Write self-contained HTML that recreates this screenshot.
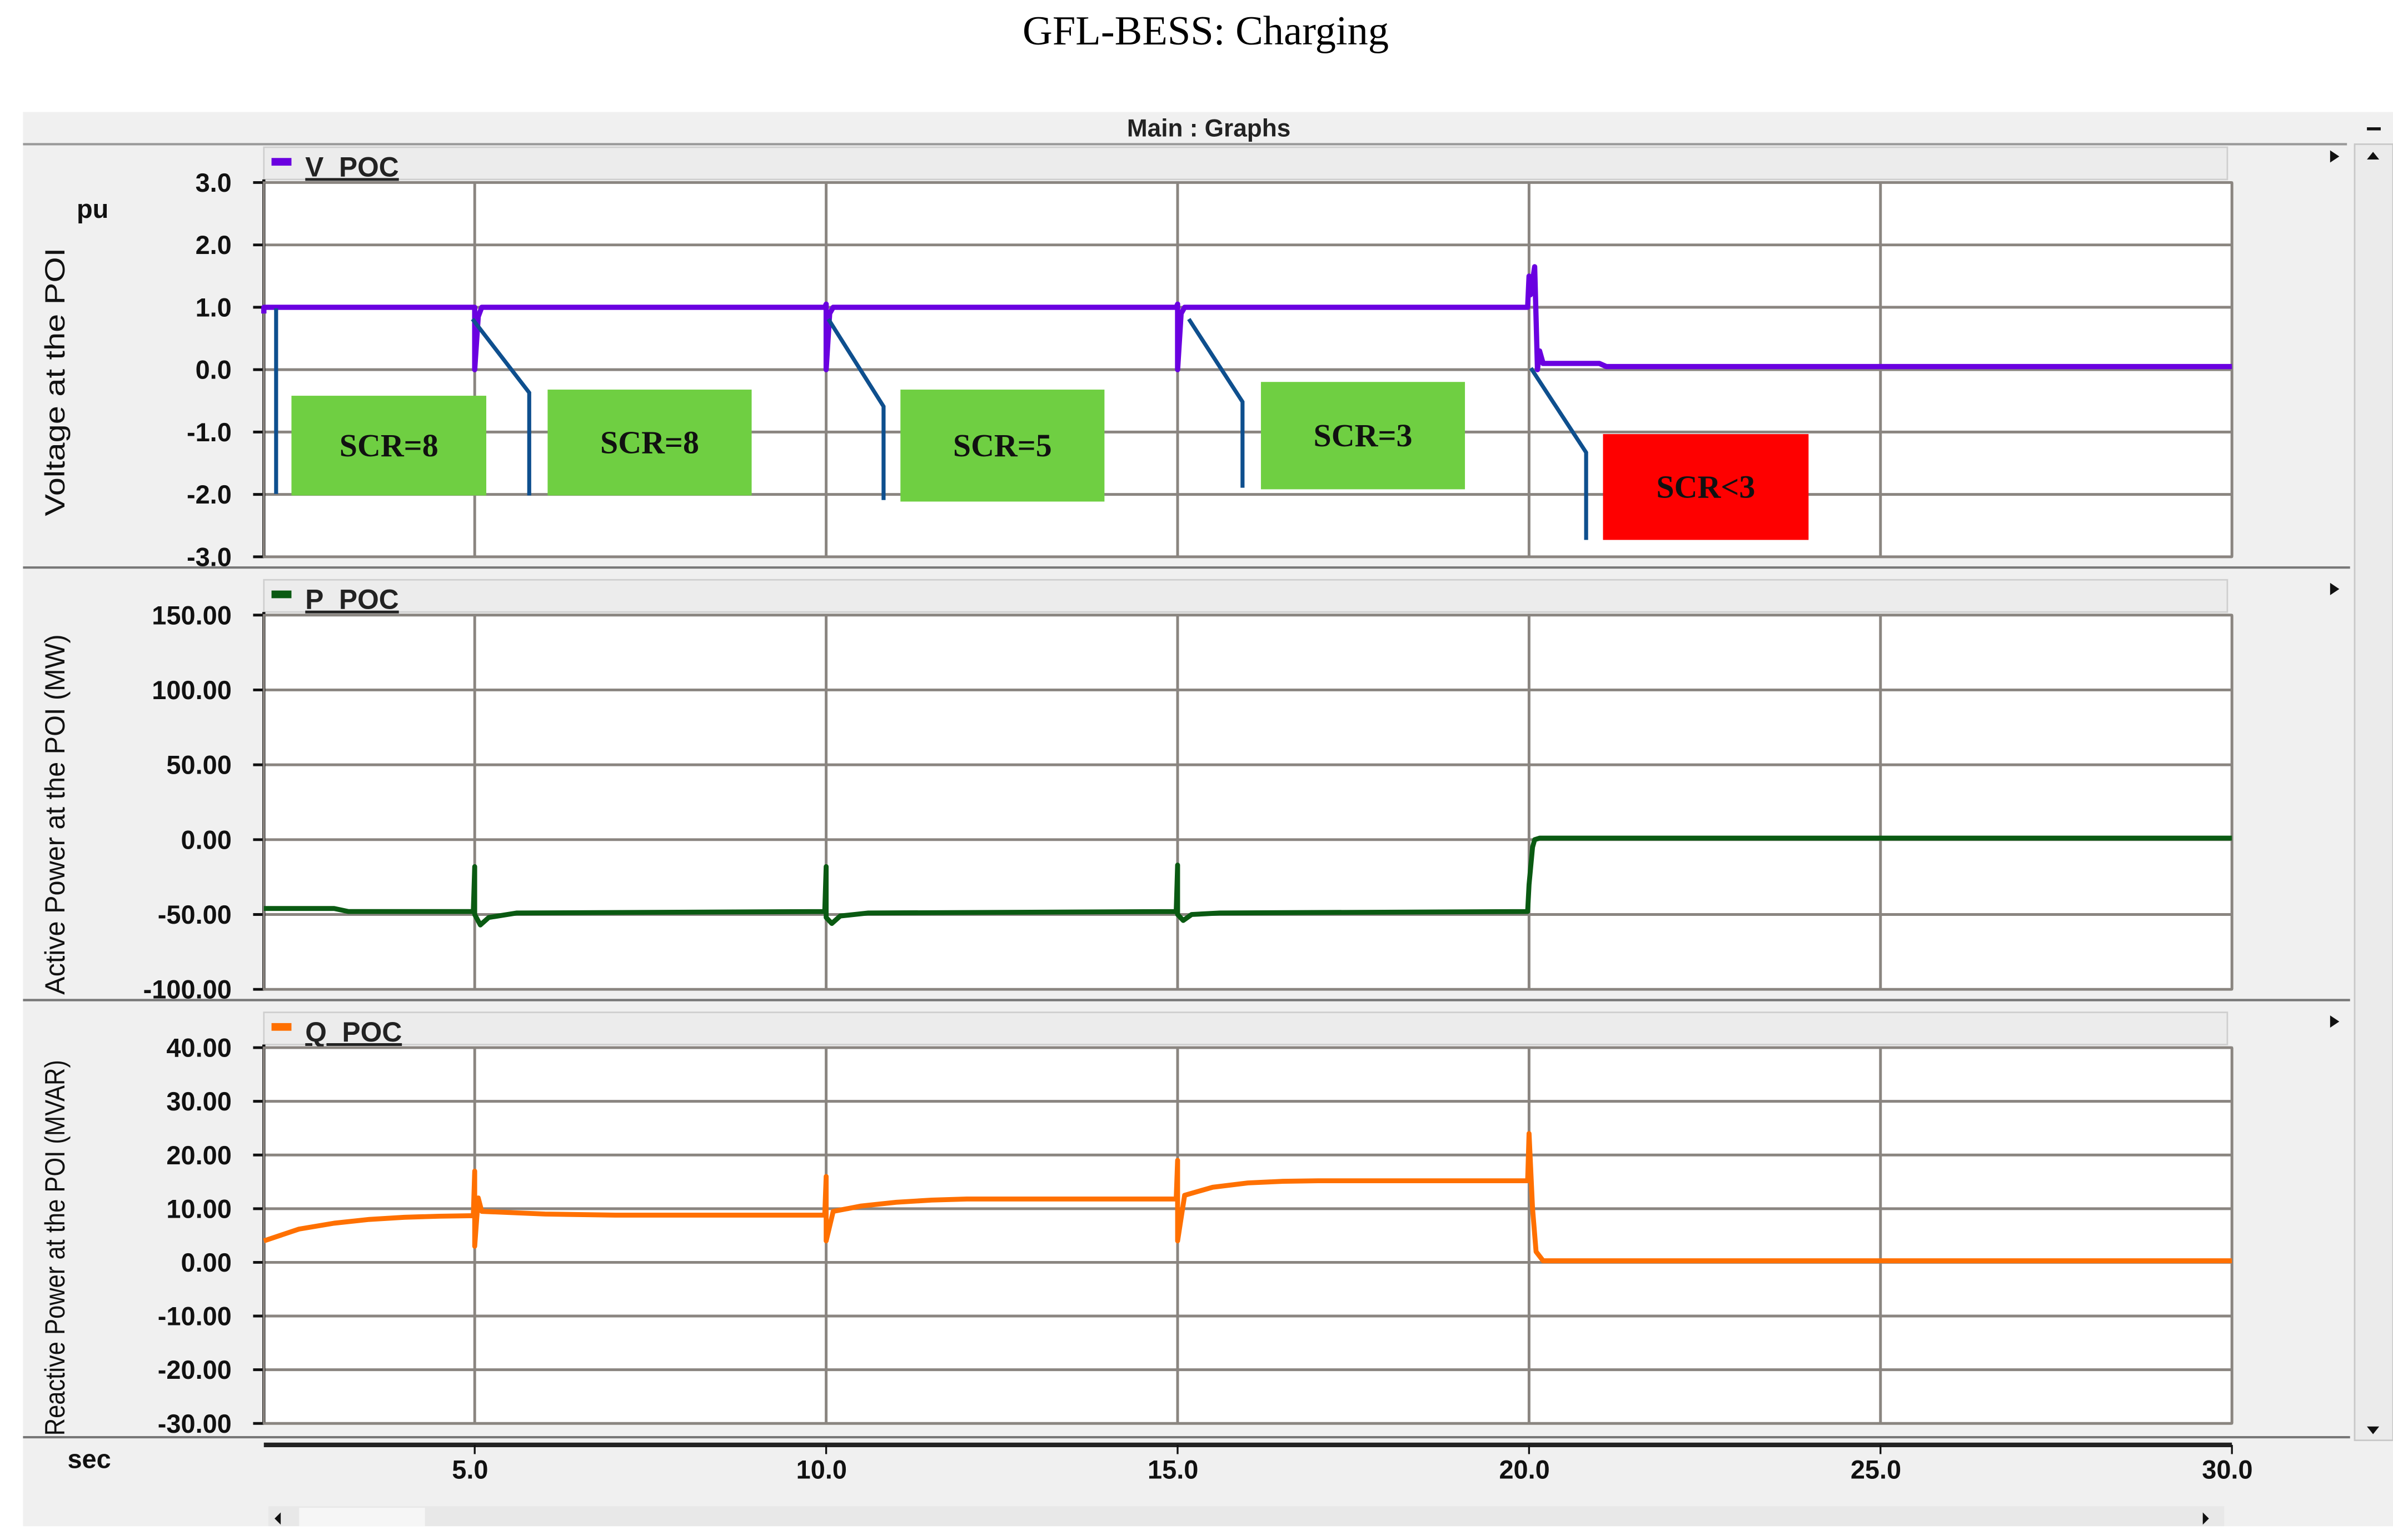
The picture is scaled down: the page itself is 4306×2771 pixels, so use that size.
<!DOCTYPE html>
<html><head><meta charset="utf-8"><style>
html,body{margin:0;padding:0;background:#fff;}
svg{display:block;}
text{font-family:"Liberation Sans",sans-serif;}
</style></head><body>
<svg id="chart" width="4306" height="2771" viewBox="0 0 1560 1004" preserveAspectRatio="none" xmlns="http://www.w3.org/2000/svg">
<text x="786" y="29" text-anchor="middle" style="font-family:'Liberation Serif',serif;font-size:27px">GFL-BESS: Charging</text>
<rect x="15" y="73" width="1545" height="922" fill="#f0f0f0"/>
<text x="788" y="89" text-anchor="middle" font-size="16" font-weight="bold" fill="#222">Main : Graphs</text>
<line x1="15" y1="94" x2="1530" y2="94" stroke="#999" stroke-width="1.5"/>
<g id="panels"></g>
<g id="annotations"></g>
</svg>
<script>
// ---- data ----
const xTicks = [5, 10, 15, 20, 25, 30];
const xTickLabels = ["5.0", "10.0", "15.0", "20.0", "25.0", "30.0"];
const vTicks = [3, 2, 1, 0, -1, -2, -3];
const vTickLabels = ["3.0", "2.0", "1.0", "0.0", "-1.0", "-2.0", "-3.0"];
const pTicks = [150, 100, 50, 0, -50, -100];
const pTickLabels = ["150.00", "100.00", "50.00", "0.00", "-50.00", "-100.00"];
const qTicks = [40, 30, 20, 10, 0, -10, -20, -30];
const qTickLabels = ["40.00", "30.00", "20.00", "10.00", "0.00", "-10.00", "-20.00", "-30.00"];

const vTime = [2, 2, 4.98, 5, 5, 5.05, 5.1, 9.98, 10, 10, 10.05, 10.1, 14.98, 15, 15, 15.05, 15.1, 19.98, 20, 20.02, 20.08, 20.12, 20.15, 20.2, 21, 21.1, 30];
const vValue = [0.9, 1.0, 1.0, 1.0, 0.0, 0.85, 1.0, 1.0, 1.05, 0.0, 0.9, 1.0, 1.0, 1.05, 0.0, 0.9, 1.0, 1.0, 1.5, 1.2, 1.65, 0.0, 0.3, 0.1, 0.1, 0.05, 0.05];
const pTime = [2, 3, 3.2, 4.98, 5, 5, 5.08, 5.2, 5.6, 9.98, 10, 10, 10.08, 10.2, 10.6, 14.98, 15, 15, 15.08, 15.2, 15.6, 19.98, 20, 20.05, 20.08, 20.15, 30];
const pValue = [-46, -46, -48, -48, -18, -50, -57, -52, -49, -48, -18, -52, -56, -51, -49, -48, -17, -50, -54, -50, -49, -48, -30, -5, 0, 1, 1];
const qTime = [2, 2.5, 3, 3.5, 4, 4.5, 4.98, 5, 5, 5.05, 5.1, 6, 7, 8, 9, 9.98, 10, 10, 10.1, 10.5, 11, 11.5, 12, 14.98, 15, 15, 15.1, 15.5, 16, 16.5, 17, 19.98, 20, 20.05, 20.1, 20.2, 30];
const qValue = [4, 6.2, 7.3, 8, 8.4, 8.6, 8.7, 17, 3, 12, 9.5, 9, 8.8, 8.8, 8.8, 8.8, 16, 4, 9.5, 10.5, 11.2, 11.6, 11.8, 11.8, 19, 4, 12.5, 14, 14.8, 15.1, 15.2, 15.2, 24, 10, 2, 0.3, 0.3];

// ---- layout ----
const X0 = 172, X1 = 1455, TMIN = 2, TMAX = 30;
const xs = t => X0 + (t - TMIN) / (TMAX - TMIN) * (X1 - X0);
const NS = "http://www.w3.org/2000/svg";
function mk(tag, attrs, parent) {
  const e = document.createElementNS(NS, tag);
  for (const k in attrs) e.setAttribute(k, attrs[k]);
  parent.appendChild(e);
  return e;
}
const panels = document.getElementById("panels");

const panelDefs = [
  {key: "voltage", top: 119, bottom: 363, min: -3, max: 3, ticks: vTicks, labels: vTickLabels, time: vTime, vals: vValue, color: "#6a00e0", legend: "V_POC", sw: 3.4, title: "Voltage at the POI", titleLen: 175, hdr: 96, sep: 370},
  {key: "active-power", top: 401, bottom: 645, min: -100, max: 150, ticks: pTicks, labels: pTickLabels, time: pTime, vals: pValue, color: "#0a5a12", legend: "P_POC", sw: 3.2, title: "Active Power at the POI (MW)", titleLen: 235, hdr: 378, sep: 652},
  {key: "reactive-power", top: 683, bottom: 928, min: -30, max: 40, ticks: qTicks, labels: qTickLabels, time: qTime, vals: qValue, color: "#ff7000", legend: "Q_POC", sw: 3.2, title: "Reactive Power at the POI (MVAR)", titleLen: 245, hdr: 660, sep: 937}
];

panelDefs.forEach(p => {
  const g = mk("g", {}, panels);
  
  
  const ys = v => p.bottom - (v - p.min) / (p.max - p.min) * (p.bottom - p.top);
  const hb = mk("rect", {x: 172, y: p.hdr, width: 1280, height: 21, fill: "#ececec", stroke: "#cfcfcf", "stroke-width": 1}, g);
  
  
  const sw = mk("rect", {x: 177, y: p.hdr + 7, width: 13, height: 5, fill: p.color}, g);
  
  
  const lt = mk("text", {x: 199, y: p.hdr + 19, "font-size": 18, "font-weight": "bold", fill: "#222", "text-decoration": "underline"}, g);
  lt.textContent = p.legend;
  
  
  const ar = mk("path", {d: `M1519 ${p.hdr + 2} L1525 ${p.hdr + 6} L1519 ${p.hdr + 10} Z`, fill: "#111"}, g);
  
  
  const pa = mk("rect", {x: X0, y: p.top, width: X1 - X0, height: p.bottom - p.top, fill: "#fff"}, g);
  
  
  p.ticks.forEach((v, i) => {
    const y = ys(v);
    const gl = mk("line", {x1: X0, y1: y, x2: X1, y2: y, stroke: "#8a8580", "stroke-width": 1.8}, g);
    
    
    mk("line", {x1: X0 - 7, y1: y, x2: X0, y2: y, stroke: "#111", "stroke-width": 1.8}, g);
    const tl = mk("text", {x: 151, y: y + 6, "text-anchor": "end", "font-size": 17, "font-weight": "bold", fill: "#111"}, g);
    tl.textContent = p.labels[i];
    
    
  });
  xTicks.forEach(t => {
    const gl = mk("line", {x1: xs(t), y1: p.top, x2: xs(t), y2: p.bottom, stroke: "#8a8580", "stroke-width": 1.8}, g);
    
    
  });
  mk("line", {x1: X0, y1: p.top - 2, x2: X0, y2: p.bottom, stroke: "#111", "stroke-width": 2}, g);
  mk("rect", {x: X0, y: p.top, width: X1 - X0, height: p.bottom - p.top, fill: "none", stroke: "#8a8580", "stroke-width": 1.4}, g);
  const cy = (p.top + p.bottom) / 2 + 8;
  const at = mk("text", {x: 0, y: 0, transform: `translate(42 ${cy}) rotate(-90)`, "text-anchor": "middle", "font-size": 18, fill: "#111", textLength: p.titleLen, lengthAdjust: "spacingAndGlyphs"}, g);
  at.textContent = p.title;
  
  
  const d = p.time.map((t, i) => (i ? "L" : "M") + xs(t).toFixed(2) + " " + ys(p.vals[i]).toFixed(2)).join(" ");
  const ln = mk("path", {d: d, fill: "none", stroke: p.color, "stroke-width": p.sw, "stroke-linejoin": "round"}, g);
  
  
  mk("line", {x1: 15, y1: p.sep, x2: 1532, y2: p.sep, stroke: "#777", "stroke-width": 1.5}, g);
});

const pu = mk("text", {x: 50, y: 142, "font-size": 17, "font-weight": "bold", fill: "#111"}, panels);
pu.textContent = "pu";



const xa = mk("g", {}, panels);


mk("line", {x1: X0, y1: 942, x2: X1, y2: 942, stroke: "#222", "stroke-width": 3}, xa);
xTicks.forEach((t, i) => {
  mk("line", {x1: xs(t), y1: 942, x2: xs(t), y2: 948, stroke: "#111", "stroke-width": 1.2}, xa);
  const tl = mk("text", {x: xs(t) - 3, y: 964, "text-anchor": "middle", "font-size": 17, "font-weight": "bold", fill: "#111"}, xa);
  tl.textContent = xTickLabels[i];
  
  
});
const sec = mk("text", {x: 44, y: 957, "font-size": 17, "font-weight": "bold", fill: "#111"}, xa);
sec.textContent = "sec";



const hs = mk("g", {}, panels);


mk("rect", {x: 175, y: 982, width: 1275, height: 13, fill: "#e8e8e8"}, hs);
mk("rect", {x: 195, y: 983, width: 82, height: 12, fill: "#f6f6f6"}, hs);
mk("path", {d: "M183 986 L179 990 L183 994 Z", fill: "#111"}, hs);
mk("path", {d: "M1436 986 L1440 990 L1436 994 Z", fill: "#111"}, hs);
const vs = mk("g", {}, panels);


mk("rect", {x: 1535, y: 94, width: 25, height: 845, fill: "#ebebeb", stroke: "#c8c8c8", "stroke-width": 1}, vs);
mk("path", {d: "M1543 104 L1547 99 L1551 104 Z", fill: "#111"}, vs);
mk("path", {d: "M1543 930 L1547 935 L1551 930 Z", fill: "#111"}, vs);
mk("rect", {x: 1543, y: 83, width: 9, height: 2, fill: "#111"}, vs);

const ann = document.getElementById("annotations");
const blue = "#0e4f8e";
const lines = [
  [[180, 201], [180, 322]],
  [[308, 208], [345, 256], [345, 323]],
  [[540, 208], [576, 265], [576, 326]],
  [[775, 208], [810, 262], [810, 318]],
  [[998, 240], [1034, 295], [1034, 352]]
];
lines.forEach(pts => {
  const l = mk("polyline", {points: pts.map(p => p.join(",")).join(" "), fill: "none", stroke: blue, "stroke-width": 2.6}, ann);
  
  
});
const boxes = [
  [190, 258, 127, 65, "#6fcf42", "SCR=8"],
  [357, 254, 133, 69, "#6fcf42", "SCR=8"],
  [587, 254, 133, 73, "#6fcf42", "SCR=5"],
  [822, 249, 133, 70, "#6fcf42", "SCR=3"],
  [1045, 283, 134, 69, "#fe0000", "SCR<3"]
];
boxes.forEach(b => {
  const r = mk("rect", {x: b[0], y: b[1], width: b[2], height: b[3], fill: b[4]}, ann);
  
  
  const t = mk("text", {x: b[0] + b[2] / 2, y: b[1] + b[3] / 2 + 7, "text-anchor": "middle", style: "font-family:'Liberation Serif',serif;font-size:21px;font-weight:bold", fill: "#111"}, ann);
  t.textContent = b[5];
  
  
});
</script>
</body></html>
